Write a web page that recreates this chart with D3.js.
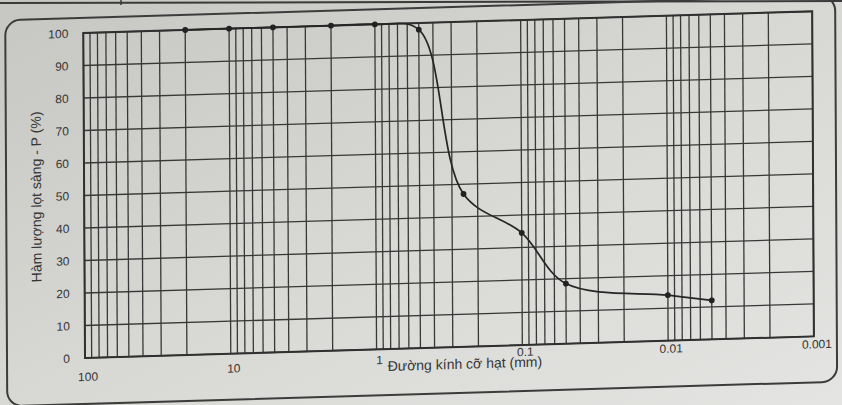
<!DOCTYPE html>
<html>
<head>
<meta charset="utf-8">
<script src="https://cdn.jsdelivr.net/npm/d3@7"></script>
<style>
body { margin: 0; background: #d6d6d3; }
svg { display: block; }
text { font-family: "Liberation Sans", Arial, sans-serif; fill: #353535; }
</style>
</head>
<body>
<div id="main"></div>
<script>
var width = 842,
    height = 405;

// grain size (mm) and percent passing
var grainSize = [20, 10, 5, 2, 1, 0.5, 0.25, 0.1, 0.05, 0.01, 0.005];
var passing = [100, 100, 100, 100, 100, 98, 47, 34.5, 18.5, 14, 12];

var xTickValues = [100, 10, 1, 0.1, 0.01, 0.001];
var xTickLabels = ["100", "10", "1", "0.1", "0.01", "0.001"];
var yTickValues = [0, 10, 20, 30, 40, 50, 60, 70, 80, 90, 100];

var yTitle = "Hàm lượng lọt sàng - P (%)";
var xTitle = "Đường kính cỡ hạt (mm)";

// plot box (note: "top" is taken by window.top)
var plotLeft = 85, plotRight = 814, plotTop = 33, plotBottom = 358;
// label gaps below the bottom border (the printed sheet places them unevenly)
var labelGap = [19, 15, 11, 7, 8, 8];

var x = d3.scaleLog()
    .domain([100, 0.001])
    .range([plotLeft, plotRight]);

var y = d3.scaleLinear()
    .domain([0, 100])
    .range([plotBottom, plotTop]);

var svg = d3.select("#main").append("svg")
    .attr("width", width)
    .attr("height", height);

// paper shading of the photo
var grad = svg.append("defs").append("linearGradient")
    .attr("id", "paper")
    .attr("x1", 0).attr("y1", 0)
    .attr("x2", 1).attr("y2", 1);
grad.append("stop").attr("offset", 0).attr("stop-color", "#c6c6c3");
grad.append("stop").attr("offset", 0.55).attr("stop-color", "#d9d9d6");
grad.append("stop").attr("offset", 1).attr("stop-color", "#e4e4e2");

svg.append("rect")
    .attr("width", width)
    .attr("height", height)
    .attr("fill", "url(#paper)");

// table rule at the top of the sheet
svg.append("line")
    .attr("x1", 0).attr("y1", 3)
    .attr("x2", width).attr("y2", 1)
    .attr("stroke", "#3a3a3a")
    .attr("stroke-width", 2);
svg.append("line")
    .attr("x1", 121).attr("y1", 0)
    .attr("x2", 121).attr("y2", 5)
    .attr("stroke", "#3a3a3a")
    .attr("stroke-width", 1.5);

// the sheet is photographed slightly askew
var page = svg.append("g")
    .attr("transform", "translate(" + plotLeft + "," + plotBottom + ") skewX(0.3) skewY(-1.7) translate(" + -plotLeft + "," + -plotBottom + ")");

page.append("rect")
    .attr("x", 7)
    .attr("y", 18)
    .attr("width", 830)
    .attr("height", 386)
    .attr("rx", 15)
    .attr("fill", "none")
    .attr("stroke", "#3c3c3c")
    .attr("stroke-width", 2);

var g = page.append("g");

// vertical log grid: 1..9 in every decade
g.selectAll("line.vgrid")
    .data(x.ticks())
    .enter()
    .append("line")
    .attr("class", "vgrid")
    .attr("x1", function(d) { return x(d); })
    .attr("x2", function(d) { return x(d); })
    .attr("y1", plotTop)
    .attr("y2", plotBottom)
    .attr("stroke", "#383838")
    .attr("stroke-width", 1.3);

// horizontal grid every 10 %
g.selectAll("line.hgrid")
    .data(yTickValues)
    .enter()
    .append("line")
    .attr("class", "hgrid")
    .attr("x1", plotLeft)
    .attr("x2", plotRight)
    .attr("y1", function(d) { return y(d); })
    .attr("y2", function(d) { return y(d); })
    .attr("stroke", "#383838")
    .attr("stroke-width", 1.3);

g.append("rect")
    .attr("x", plotLeft)
    .attr("y", plotTop)
    .attr("width", plotRight - plotLeft)
    .attr("height", plotBottom - plotTop)
    .attr("fill", "none")
    .attr("stroke", "#303030")
    .attr("stroke-width", 2);

// y tick labels
var yAxis = d3.axisLeft(y)
    .tickValues(yTickValues)
    .tickSize(0)
    .tickPadding(15);

g.append("g")
    .attr("transform", "translate(" + plotLeft + ",0)")
    .call(yAxis)
    .call(function(a) { a.select(".domain").remove(); })
    .selectAll("text")
    .attr("font-family", "Liberation Sans, Arial, sans-serif")
    .attr("font-size", 12)
    .attr("fill", "#353535");

// x tick labels
g.selectAll("text.xlab")
    .data(xTickValues)
    .enter()
    .append("text")
    .attr("class", "xlab")
    .attr("x", function(d) { return x(d) + 3; })
    .attr("y", function(d, i) { return plotBottom + labelGap[i]; })
    .attr("text-anchor", "middle")
    .attr("dominant-baseline", "central")
    .attr("font-size", 12)
    .text(function(d, i) { return xTickLabels[i]; });

// axis titles
g.append("text")
    .attr("transform", "translate(37," + (plotTop + plotBottom) / 2 + ") rotate(-90)")
    .attr("text-anchor", "middle")
    .attr("dominant-baseline", "central")
    .style("font-family", "'Liberation Sans Narrow', 'Liberation Sans', sans-serif")
    .attr("font-size", 14)
    .attr("fill", "#2e2e2e")
    .text(yTitle);

g.append("text")
    .attr("x", x(1) + 11)
    .attr("y", plotBottom + 22)
    .style("font-family", "'Liberation Sans Narrow', 'Liberation Sans', sans-serif")
    .attr("font-size", 14)
    .attr("fill", "#2e2e2e")
    .text(xTitle);

// grading curve
var pts = grainSize.map(function(d, i) { return [d, passing[i]]; });

var line = d3.line()
    .x(function(d) { return x(d[0]); })
    .y(function(d) { return y(d[1]); })
    .curve(d3.curveCatmullRom.alpha(0.5));

g.append("path")
    .datum(pts)
    .attr("d", line)
    .attr("fill", "none")
    .attr("stroke", "#262626")
    .attr("stroke-width", 1.7);

g.selectAll("circle.pt")
    .data(pts)
    .enter()
    .append("circle")
    .attr("class", "pt")
    .attr("cx", function(d) { return x(d[0]); })
    .attr("cy", function(d) { return y(d[1]); })
    .attr("r", 2.9)
    .attr("fill", "#222");
</script>
</body>
</html>
